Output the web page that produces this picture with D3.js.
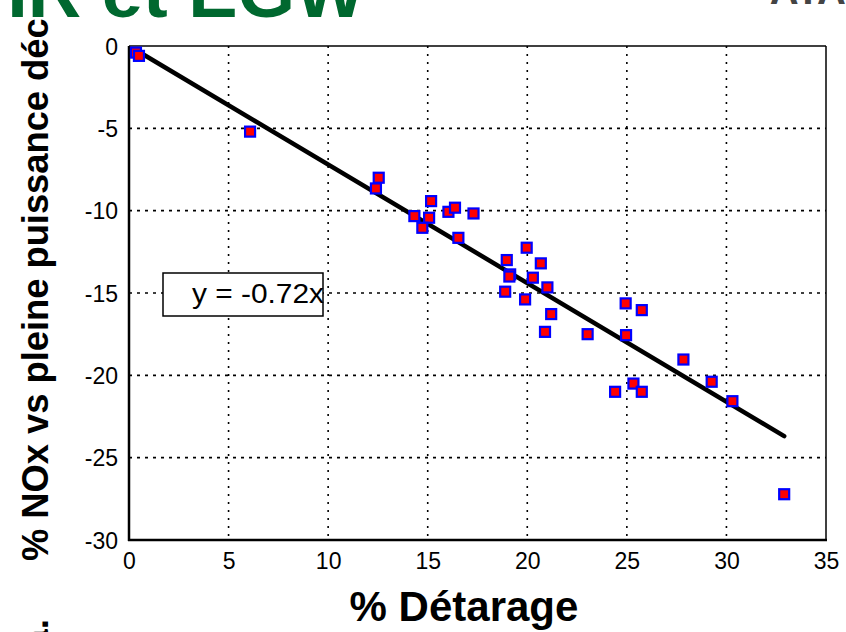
<!DOCTYPE html>
<html><head><meta charset="utf-8">
<script src="https://cdn.jsdelivr.net/npm/d3@7"></script>
<style>html,body{margin:0;padding:0;background:#fff;overflow:hidden}svg{display:block}</style>
</head><body>
<svg id="chart" width="846" height="632"></svg>
<script>
// ---- data ----
const derating = [0.35, 0.5, 6.08, 12.54, 12.4, 15.17, 14.33, 15.07, 14.73, 16.04, 16.37, 17.3, 16.54,
  19.97, 18.97, 20.68, 19.14, 19.1, 20.28, 21.01, 18.89, 19.89, 21.2, 20.89, 23.03,
  24.94, 25.75, 24.96, 27.84, 29.26, 24.41, 25.33, 25.75, 30.3, 32.9];
const noxChange = [-0.4, -0.6, -5.2, -8.0, -8.65, -9.42, -10.33, -10.43, -11.04, -10.07, -9.82, -10.17, -11.65,
  -12.25, -13.0, -13.2, -13.87, -14.0, -14.07, -14.66, -14.92, -15.39, -16.28, -17.36, -17.5,
  -15.63, -16.04, -17.56, -19.04, -20.39, -21.0, -20.5, -21.0, -21.57, -27.22];
const fitSlope = -0.72;
const fitRange = [0.3, 32.9];
const xTicks = [0, 5, 10, 15, 20, 25, 30, 35];
const yTicks = [0, -5, -10, -15, -20, -25, -30];
const xLabel = "% Détarage";
const yLabel = "% NOx vs pleine puissance déc";
const equationText = "y = -0.72x";
const titleText = "IR et EGW";

const svg = d3.select("#chart");
const font = "'Liberation Sans', Arial, Helvetica, sans-serif";
const L = 129, R = 826, T = 46, B = 540;
const x = d3.scaleLinear().domain([0, 35]).range([L, R]);
const y = d3.scaleLinear().domain([-30, 0]).range([B, T]);

// title fragment (cut off at top)
svg.append("text").attr("x", 365).attr("y", 17).attr("text-anchor", "end")
  .attr("font-family", font).attr("font-weight", "bold").attr("font-size", 74)
  .attr("fill", "#00682f").text(titleText);
svg.append("text").attr("x", 846).attr("y", 4).attr("text-anchor", "end")
  .attr("font-family", font).attr("font-weight", "bold").attr("font-size", 40)
  .attr("fill", "#444").text("ATA");

// grid
const g = svg.append("g");
g.selectAll(".vg").data(xTicks.filter(d => d > 0 && d < 35)).join("line")
  .attr("x1", d => x(d)).attr("x2", d => x(d)).attr("y1", T).attr("y2", B)
  .attr("stroke", "#000").attr("stroke-width", 1.6).attr("stroke-dasharray", "2,6");
g.selectAll(".hg").data(yTicks.filter(d => d < 0 && d > -30)).join("line")
  .attr("x1", L).attr("x2", R).attr("y1", d => y(d)).attr("y2", d => y(d))
  .attr("stroke", "#000").attr("stroke-width", 1.6).attr("stroke-dasharray", "3,5");

// frame
g.append("line").attr("x1", L).attr("x2", R).attr("y1", T).attr("y2", T).attr("stroke", "#000").attr("stroke-width", 1.5);
g.append("line").attr("x1", R).attr("x2", R).attr("y1", T).attr("y2", B).attr("stroke", "#000").attr("stroke-width", 1.5);
g.append("line").attr("x1", L).attr("x2", L).attr("y1", T).attr("y2", B + 1).attr("stroke", "#000").attr("stroke-width", 2.5);
g.append("line").attr("x1", L - 1).attr("x2", R + 1).attr("y1", B).attr("y2", B).attr("stroke", "#000").attr("stroke-width", 2.5);

// axes tick labels via d3 axes
const xAxis = svg.append("g").attr("transform", `translate(0,${B})`)
  .call(d3.axisBottom(x).tickValues(xTicks).tickSize(0).tickPadding(12).tickFormat(d3.format("d")));
const yAxis = svg.append("g").attr("transform", `translate(${L},0)`)
  .call(d3.axisLeft(y).tickValues(yTicks).tickSize(0).tickPadding(11).tickFormat(d => d3.format("d")(d).replace("−", "-")));
[xAxis, yAxis].forEach(a => {
  a.select(".domain").remove();
  a.selectAll("text").attr("font-family", font).attr("font-size", 23).attr("fill", "#000");
});
yAxis.selectAll("text").attr("dy", "0.36em");
xAxis.selectAll("text").attr("dy", "0.72em");

// fit line
svg.append("line")
  .attr("x1", x(fitRange[0])).attr("y1", y(fitSlope * fitRange[0]))
  .attr("x2", x(fitRange[1])).attr("y2", y(fitSlope * fitRange[1]))
  .attr("stroke", "#000").attr("stroke-width", 4.5).attr("stroke-linecap", "round");

// points
const pts = derating.map((d, i) => [d, noxChange[i]]);
const s = 10;
svg.append("g").selectAll("rect").data(pts).join("rect")
  .attr("x", d => x(d[0]) - s / 2).attr("y", d => y(d[1]) - s / 2)
  .attr("width", s).attr("height", s)
  .attr("fill", "#ff0000").attr("stroke", "#0000ff").attr("stroke-width", 2.2);

// equation box
svg.append("rect").attr("x", 163).attr("y", 273).attr("width", 160).attr("height", 43)
  .attr("fill", "#fff").attr("stroke", "#000").attr("stroke-width", 1.5);
svg.append("text").attr("x", 192).attr("y", 303).attr("font-family", font).attr("font-size", 27)
  .attr("textLength", 132).attr("lengthAdjust", "spacingAndGlyphs")
  .attr("fill", "#000").text(equationText);

// axis titles
svg.append("text").attr("x", 464).attr("y", 621).attr("text-anchor", "middle")
  .attr("font-family", font).attr("font-weight", "bold").attr("font-size", 42)
  .attr("fill", "#000").text(xLabel);
svg.append("text").attr("transform", "translate(48,561) rotate(-90)")
  .attr("font-family", font).attr("font-weight", "bold").attr("font-size", 36.3)
  .attr("fill", "#000").text(yLabel);
svg.append("text").attr("transform", "translate(48,619) rotate(-90)").attr("text-anchor", "end")
  .attr("font-family", font).attr("font-weight", "bold").attr("font-size", 37)
  .attr("fill", "#000").text("a.");
</script>
</body></html>
